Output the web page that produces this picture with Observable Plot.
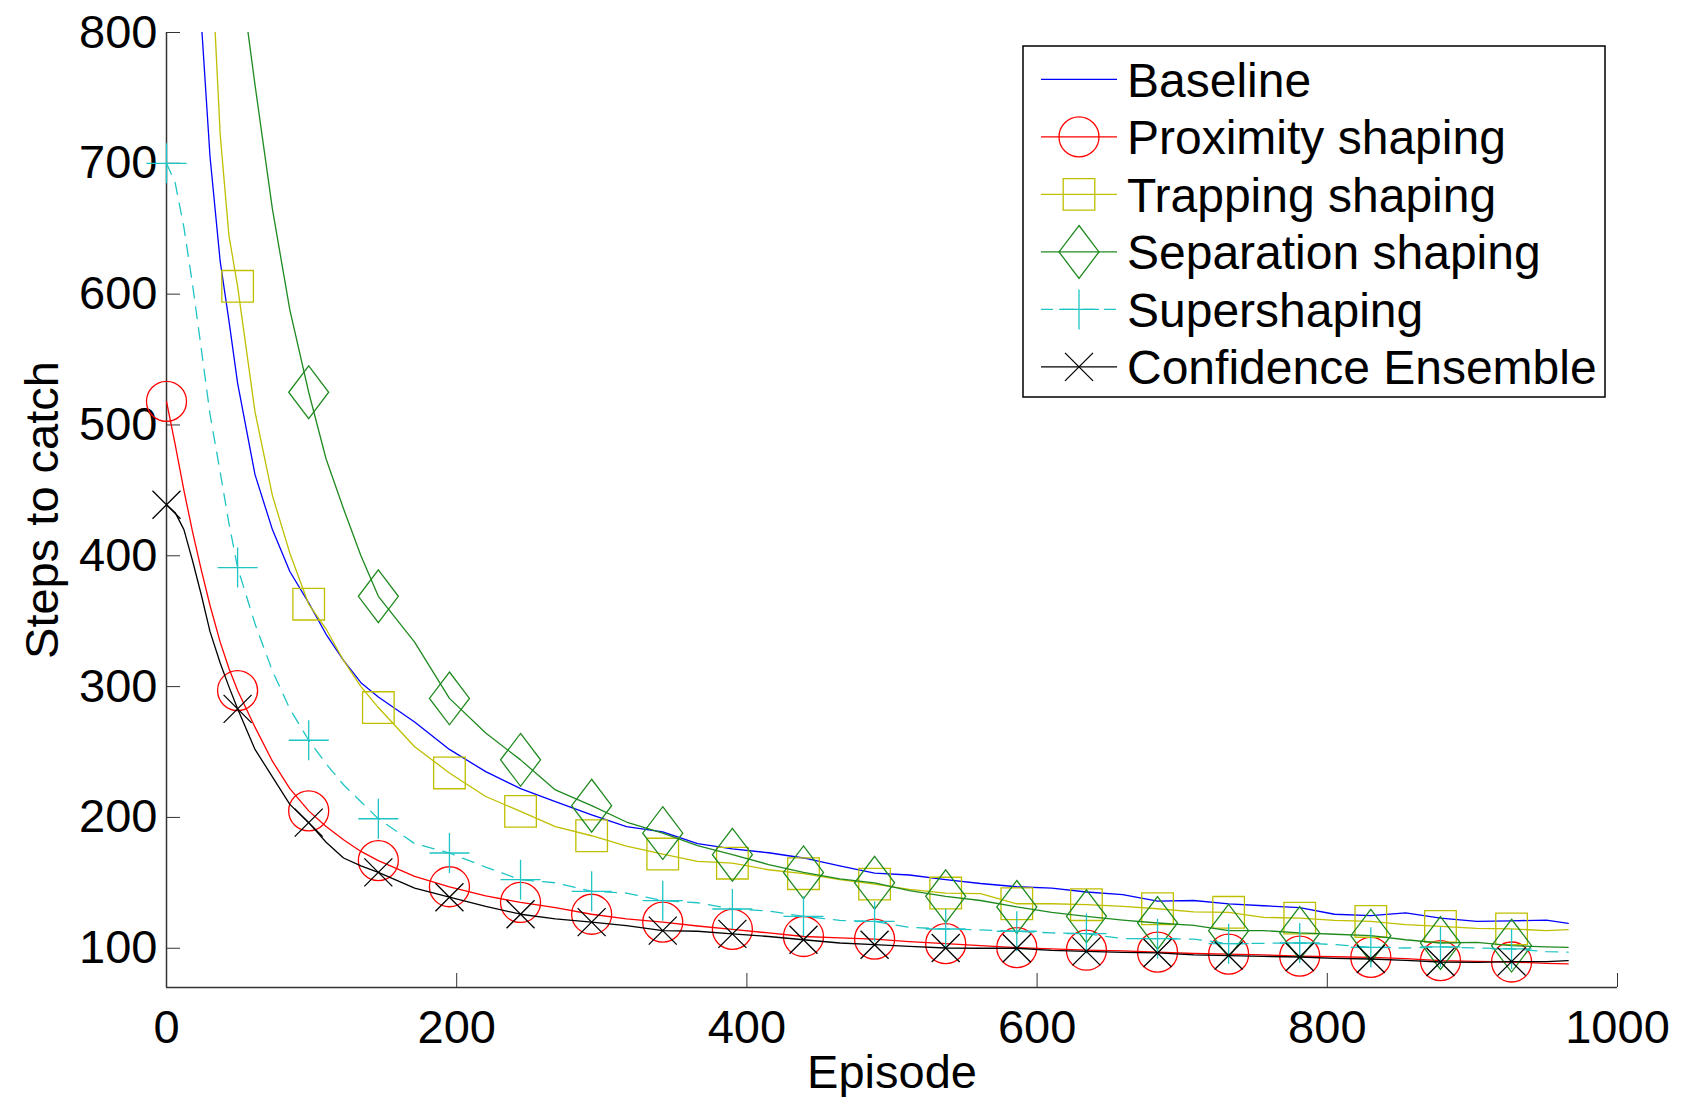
<!DOCTYPE html>
<html>
<head>
<meta charset="utf-8">
<script src="https://cdn.jsdelivr.net/npm/d3@7"></script>
<script src="https://cdn.jsdelivr.net/npm/@observablehq/plot@0.6"></script>
<style>
  html, body { margin: 0; padding: 0; background: #fff; }
  #chart svg { display: block; }
</style>
</head>
<body>
<div id="chart"></div>
<script>
// ---------------- DATA ----------------
const episodes = [0, 6, 12, 18, 24, 30, 37, 43, 49, 61, 73, 85, 98, 110, 122, 134, 146,
  171, 195, 220, 244, 268, 293, 317, 342, 366, 390,
  415, 439, 464, 488, 512, 537, 561, 586, 610, 634,
  659, 683, 708, 732, 756, 781, 805, 830, 854, 878,
  903, 927, 951, 966];

const markerEpisodes = [0, 49, 98, 146, 195, 244, 293, 342, 390, 439, 488, 537, 586, 634, 683, 732, 781, 830, 878, 927];

const seriesNames = ["Baseline", "Proximity shaping", "Trapping shaping", "Separation shaping", "Supershaping", "Confidence Ensemble"];

const baseline = [1800, 1400, 1150, 960, 808, 705, 625, 580, 532, 462, 420, 388, 364, 340, 320, 303, 292,
  273, 252, 235, 222, 212, 202, 193, 189, 180, 176,
  173, 169, 163, 157.5, 156, 152.5, 149.5, 147, 146, 143,
  141, 136, 136.5, 134, 132.5, 131, 126, 125, 127, 123,
  120.5, 121, 121.5, 119];

const proximity = [518, 485, 450, 418, 389, 362, 334, 314, 297, 269, 243, 222, 205, 193, 183, 174, 167,
  155, 147, 140, 135, 131, 126, 122.4, 120, 117, 114.5,
  111.7, 109, 107.9, 107, 105, 103.5, 102, 100.5, 99.5, 98.5,
  98, 97, 96, 95.5, 95, 94, 93.5, 93, 92, 90.5,
  90, 89.5, 88.5, 88];

const trapping = [2400, 1900, 1500, 1250, 1050, 880, 722, 645, 606, 510, 446, 402, 363, 344, 320, 300, 284,
  254, 234, 216, 204.6, 193, 186, 178, 172, 166.4, 165,
  160, 157, 152.4, 149, 145, 142.2, 141.7, 134, 134, 133.3,
  132, 130.2, 127.8, 127.5, 123.6, 123, 121.3, 120.5, 118, 116.7,
  115.2, 114.8, 113.5, 114.2];

const separation = [2600, 2100, 1750, 1450, 1250, 1100, 1000, 920, 860, 760, 665, 588, 525, 474, 436, 400, 369,
  334, 291, 264.5, 244, 221, 209, 196.5, 188, 178.4, 171.5,
  164, 158, 153, 150, 144, 139.7, 136.5, 131.6, 127.5, 124.4,
  121.5, 119.3, 117.5, 113.4, 113.5, 111.7, 110.7, 109.6, 106.5, 104,
  104.5, 102, 101, 100.7];

const supershaping = [700, 685, 651, 607, 558, 508, 464, 425, 391, 348, 312, 283, 259, 241, 225, 212, 199,
  180, 172.8, 162, 152.4, 150, 143.5, 142.2, 136.4, 134.8, 130,
  128.5, 124.4, 121.3, 120.5, 116, 114.7, 114, 113, 111.7, 111.2,
  107.3, 107.3, 107, 103.5, 103.8, 104, 102.8, 100.7, 100.2, 101,
  100.2, 99.5, 97.4, 97];

const confidence = [439, 433, 420, 396, 370, 342, 318, 300, 283, 252, 231, 210, 196, 181, 169, 163, 158,
  146, 139, 132, 126, 122.4, 120, 117.3, 113.5, 113, 111,
  109, 106.5, 104, 102.7, 101.5, 100.2, 100, 100, 98.4, 97.6,
  96.9, 96.4, 94.9, 94.4, 93.8, 93.3, 92.3, 91.8, 90.8, 89.5,
  89.2, 89.8, 89.8, 90.5];

const xTicks = [0, 200, 400, 600, 800, 1000];
const yTicks = [100, 200, 300, 400, 500, 600, 700, 800];

// ---------------- STYLE ----------------
const colors = ["#0000ff", "#ff0000", "#bfbf00", "#1f8a1f", "#1fc4c4", "#000000"];
const FONT = "'Liberation Sans', Arial, Helvetica, sans-serif";

const rad = size => Math.sqrt(size / Math.PI);
const symCircle = { draw(ctx, size) { const r = rad(size); ctx.moveTo(r, 0); ctx.arc(0, 0, r, 0, 2 * Math.PI); } };
const symSquare = { draw(ctx, size) { const r = rad(size) * 0.79; ctx.moveTo(-r, -r); ctx.lineTo(r, -r); ctx.lineTo(r, r); ctx.lineTo(-r, r); ctx.closePath(); } };
const symDiamond = { draw(ctx, size) { const r = rad(size); const h = r * 1.32; ctx.moveTo(0, -h); ctx.lineTo(r, 0); ctx.lineTo(0, h); ctx.lineTo(-r, 0); ctx.closePath(); } };
const symPlus = { draw(ctx, size) { const r = rad(size); ctx.moveTo(-r, 0); ctx.lineTo(r, 0); ctx.moveTo(0, -r); ctx.lineTo(0, r); } };
const symTimes = { draw(ctx, size) { const r = rad(size) * 0.7; ctx.moveTo(-r, -r); ctx.lineTo(r, r); ctx.moveTo(-r, r); ctx.lineTo(r, -r); } };
const symbols = [null, symCircle, symSquare, symDiamond, symPlus, symTimes];
const dashes = [null, null, null, null, "12,9", null];
const MARKER_R = 20;

// ---------------- BUILD ----------------
const seriesValues = [baseline, proximity, trapping, separation, supershaping, confidence];
const rows = seriesNames.flatMap((name, i) => episodes.map((e, j) => ({ series: name, episode: e, steps: seriesValues[i][j] })));
const markerSet = new Set(markerEpisodes);

const marks = [
  Plot.ruleX([0], { stroke: "#333", strokeWidth: 1.5 }),
  Plot.ruleY([70], { stroke: "#333", strokeWidth: 1.5 }),
  Plot.axisY(yTicks, { anchor: "left", tickSize: -14, tickPadding: 23, fontSize: 47, stroke: "#333", fill: "#000", label: null, tickFormat: d => String(d) }),
  Plot.axisX(xTicks, { anchor: "bottom", tickSize: -14, tickPadding: 36, fontSize: 47, stroke: "#333", fill: "#000", label: null, tickFormat: d => String(d) }),
  Plot.text(["Episode"], { text: d => d, frameAnchor: "bottom", dy: 85, fontSize: 47, lineAnchor: "middle", textAnchor: "middle", fill: "#000" }),
  Plot.text(["Steps to catch"], { text: d => d, frameAnchor: "left", rotate: -90, dx: -124, fontSize: 47, lineAnchor: "middle", textAnchor: "middle", fill: "#000" })
];

seriesNames.forEach((name, i) => {
  const data = rows.filter(d => d.series === name);
  marks.push(Plot.line(data, {
    x: "episode", y: "steps", stroke: colors[i], strokeWidth: 1.3,
    strokeDasharray: dashes[i], clip: true
  }));
  if (symbols[i]) {
    marks.push(Plot.dot(data.filter(d => markerSet.has(d.episode)), {
      x: "episode", y: "steps", r: MARKER_R, symbol: symbols[i],
      stroke: colors[i], fill: "none", strokeWidth: 1.3
    }));
  }
});

const chart = Plot.plot({
  width: 1706,
  height: 1097,
  marginLeft: 166,
  marginRight: 89,
  marginTop: 32,
  marginBottom: 110,
  style: { fontFamily: FONT, background: "#fff", color: "#000" },
  x: { domain: [0, 1000] },
  y: { domain: [70, 800] },
  marks
});

// Legend (inside the plot area, top right)
const svg = d3.select(chart);
const lg = svg.append("g").attr("font-family", FONT).attr("font-size", 48).attr("text-anchor", "start");
lg.append("rect").attr("x", 1023).attr("y", 46).attr("width", 582).attr("height", 351)
  .attr("fill", "#fff").attr("stroke", "#000").attr("stroke-width", 1.5);
seriesNames.forEach((name, i) => {
  const cy = 79.4 + 57.5 * i;
  lg.append("line").attr("x1", 1041).attr("x2", 1117).attr("y1", cy).attr("y2", cy)
    .attr("stroke", colors[i]).attr("stroke-width", 1.3).attr("stroke-dasharray", dashes[i]);
  if (symbols[i]) {
    lg.append("path").attr("d", d3.symbol(symbols[i], Math.PI * MARKER_R * MARKER_R)())
      .attr("transform", `translate(1079,${cy})`)
      .attr("fill", "none").attr("stroke", colors[i]).attr("stroke-width", 1.3);
  }
  lg.append("text").attr("x", 1127).attr("y", cy).attr("dy", "0.36em")
    .attr("text-anchor", "start").attr("fill", "#000").text(name);
});

document.getElementById("chart").appendChild(chart);
</script>
</body>
</html>
